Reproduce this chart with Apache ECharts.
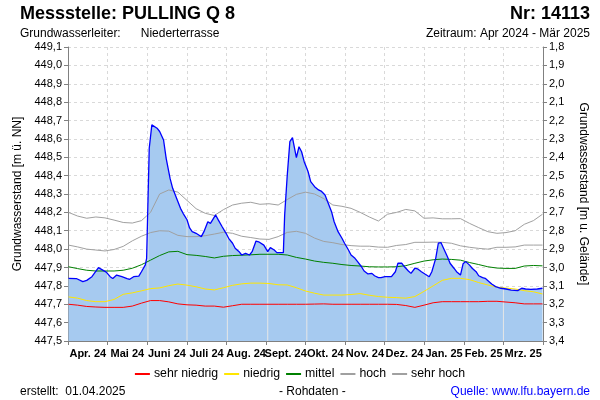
<!DOCTYPE html>
<html><head><meta charset="utf-8">
<script src="https://cdn.jsdelivr.net/npm/echarts@6/dist/echarts.min.js"></script>
<style>html,body{margin:0;padding:0;background:#fff}#c{width:600px;height:400px}</style>
</head><body><div id="c"></div>
<script>
// ---------- data ----------
const months = ['Apr. 24','Mai 24','Juni 24','Juli 24','Aug. 24','Sept. 24','Okt. 24','Nov. 24','Dez. 24','Jan. 25','Feb. 25','Mrz. 25'];
const monthStarts = ['2024-05-01','2024-06-01','2024-07-01','2024-08-01','2024-09-01','2024-10-01','2024-11-01','2024-12-01','2025-01-01','2025-02-01','2025-03-01'];
const GROUND = 450.9; // Geländehöhe [m ü. NN]

const refDates = ['2024-04-01','2024-04-08','2024-04-15','2024-04-22','2024-04-29','2024-05-06','2024-05-13','2024-05-20','2024-05-27','2024-06-03','2024-06-10','2024-06-17','2024-06-24','2024-07-01','2024-07-08','2024-07-15','2024-07-22','2024-07-29','2024-08-05','2024-08-12','2024-08-19','2024-08-26','2024-09-02','2024-09-09','2024-09-16','2024-09-23','2024-09-30','2024-10-07','2024-10-14','2024-10-21','2024-10-28','2024-11-04','2024-11-11','2024-11-18','2024-11-25','2024-12-02','2024-12-09','2024-12-16','2024-12-23','2024-12-30','2025-01-06','2025-01-13','2025-01-20','2025-01-27','2025-02-03','2025-02-10','2025-02-17','2025-02-24','2025-03-03','2025-03-10','2025-03-17','2025-03-24','2025-03-31'];

const sehrHoch = [448.200,448.180,448.168,448.175,448.170,448.158,448.145,448.142,448.155,448.200,448.300,448.322,448.310,448.265,448.220,448.195,448.183,448.215,448.240,448.250,448.255,448.244,448.247,448.240,448.270,448.298,448.310,448.300,448.275,448.240,448.233,448.222,448.200,448.175,448.153,448.190,448.200,448.216,448.208,448.168,448.170,448.165,448.165,448.166,448.140,448.117,448.095,448.086,448.090,448.100,448.135,448.155,448.190];
const hoch = [448.022,448.012,448.000,447.995,447.990,447.998,448.015,448.045,448.070,448.090,448.100,448.098,448.075,448.068,448.068,448.073,448.082,448.092,448.086,448.070,448.063,448.055,448.053,448.068,448.091,448.097,448.086,448.060,448.042,448.035,448.025,448.019,448.016,448.016,448.011,448.010,448.020,448.025,448.037,448.037,448.038,448.037,448.032,448.018,448.010,448.004,448.000,448.010,448.010,448.012,448.022,448.022,448.022];
const mittel = [447.904,447.894,447.885,447.881,447.881,447.881,447.885,447.896,447.915,447.940,447.965,447.985,447.988,447.970,447.966,447.960,447.952,447.961,447.965,447.967,447.969,447.972,447.972,447.972,447.968,447.955,447.946,447.935,447.928,447.923,447.916,447.911,447.908,447.904,447.903,447.903,447.904,447.910,447.923,447.935,447.942,447.946,447.944,447.940,447.927,447.916,447.904,447.897,447.895,447.895,447.908,447.911,447.909];
const niedrig = [447.740,447.733,447.720,447.714,447.714,447.726,447.754,447.762,447.773,447.785,447.789,447.801,447.810,447.804,447.795,447.783,447.778,447.790,447.803,447.811,447.815,447.815,447.813,447.806,447.805,447.790,447.772,447.760,447.750,447.750,447.750,447.753,447.758,447.749,447.742,447.738,447.736,447.733,447.742,447.770,447.800,447.830,447.841,447.841,447.834,447.818,447.805,447.793,447.788,447.783,447.774,447.768,447.756];
const sehrNiedrig = [447.700,447.695,447.688,447.685,447.683,447.683,447.683,447.690,447.706,447.720,447.720,447.713,447.702,447.697,447.695,447.690,447.690,447.684,447.692,447.700,447.700,447.700,447.700,447.700,447.700,447.700,447.700,447.701,447.702,447.700,447.700,447.700,447.700,447.700,447.700,447.700,447.699,447.693,447.683,447.695,447.708,447.714,447.714,447.714,447.714,447.714,447.716,447.716,447.712,447.708,447.702,447.702,447.702];

const levelDates = ['2024-04-01','2024-04-07','2024-04-12','2024-04-15','2024-04-19','2024-04-24','2024-04-28','2024-04-30','2024-05-03','2024-05-05','2024-05-08','2024-05-12','2024-05-16','2024-05-18','2024-05-21','2024-05-25','2024-05-27','2024-05-30','2024-05-31','2024-06-01','2024-06-02','2024-06-04','2024-06-05','2024-06-08','2024-06-10','2024-06-13','2024-06-15','2024-06-18','2024-06-20','2024-06-23','2024-06-26','2024-06-28','2024-07-01','2024-07-03','2024-07-05','2024-07-08','2024-07-10','2024-07-12','2024-07-14','2024-07-17','2024-07-19','2024-07-20','2024-07-23','2024-07-25','2024-07-28','2024-07-31','2024-08-02','2024-08-05','2024-08-07','2024-08-10','2024-08-12','2024-08-15','2024-08-18','2024-08-20','2024-08-23','2024-08-25','2024-08-29','2024-09-01','2024-09-03','2024-09-06','2024-09-08','2024-09-13','2024-09-14','2024-09-16','2024-09-18','2024-09-20','2024-09-21','2024-09-23','2024-09-25','2024-09-27','2024-09-29','2024-10-01','2024-10-02','2024-10-04','2024-10-07','2024-10-10','2024-10-12','2024-10-15','2024-10-17','2024-10-20','2024-10-22','2024-10-25','2024-10-28','2024-10-30','2024-11-02','2024-11-04','2024-11-07','2024-11-09','2024-11-12','2024-11-14','2024-11-17','2024-11-20','2024-11-22','2024-11-25','2024-11-27','2024-11-30','2024-12-05','2024-12-08','2024-12-10','2024-12-13','2024-12-15','2024-12-18','2024-12-20','2024-12-23','2024-12-25','2024-12-28','2024-12-31','2025-01-03','2025-01-05','2025-01-08','2025-01-10','2025-01-12','2025-01-14','2025-01-17','2025-01-19','2025-01-22','2025-01-24','2025-01-27','2025-01-29','2025-01-31','2025-02-03','2025-02-05','2025-02-08','2025-02-10','2025-02-13','2025-02-15','2025-02-18','2025-02-20','2025-02-23','2025-02-27','2025-03-03','2025-03-07','2025-03-12','2025-03-15','2025-03-18','2025-03-22','2025-03-27','2025-03-31'];
const levelValues = [447.841,447.840,447.823,447.830,447.850,447.899,447.883,447.875,447.850,447.840,447.859,447.850,447.840,447.836,447.850,447.853,447.877,447.914,447.950,448.250,448.549,448.676,448.685,448.658,448.640,448.594,448.494,448.385,448.331,448.277,448.222,448.195,448.160,448.115,448.095,448.086,448.077,448.068,448.095,448.149,448.140,448.131,448.186,448.159,448.122,448.086,448.059,448.032,448.005,447.986,447.968,447.977,447.968,447.986,448.044,448.040,448.022,447.986,448.008,447.995,447.981,447.981,448.186,448.403,448.585,448.607,448.570,448.498,448.557,448.530,448.476,448.440,448.421,448.367,448.340,448.322,448.316,448.295,448.258,448.204,448.149,448.095,448.059,448.032,447.995,447.968,447.950,447.932,447.904,447.881,447.865,447.868,447.855,447.845,447.845,447.850,447.850,447.877,447.923,447.923,447.904,447.881,447.868,447.896,447.893,447.877,447.863,447.850,447.877,447.950,448.032,448.036,448.005,447.959,447.923,447.896,447.877,447.859,447.920,447.932,447.913,447.896,447.877,447.855,447.845,447.841,447.823,447.810,447.796,447.787,447.783,447.777,447.774,447.787,447.783,447.781,447.783,447.787];

// ---------- helpers ----------
const zip = (d, v) => d.map((x, i) => [x, v[i]]);
const ts = s => { const p = s.split('-'); return new Date(+p[0], +p[1] - 1, +p[2]).getTime(); };
function levelAt(dateStr) {
  const t = ts(dateStr);
  for (let i = 1; i < levelDates.length; i++) {
    const t0 = ts(levelDates[i - 1]), t1 = ts(levelDates[i]);
    if (t >= t0 && t <= t1) {
      const f = (t - t0) / (t1 - t0);
      return levelValues[i - 1] + f * (levelValues[i] - levelValues[i - 1]);
    }
  }
  return levelValues[levelValues.length - 1];
}
const FONT = '"Liberation Sans", Arial, sans-serif';
const fmt = v => (Math.round(v * 10) / 10).toFixed(1).replace('.', ',');

const refLine = (name, data, color) => ({
  name, type: 'line', xAxisIndex: 1, yAxisIndex: 0, data: zip(refDates, data),
  symbol: 'none', smooth: false, z: 4, silent: true,
  lineStyle: { color, width: 1 }, itemStyle: { color }
});

const chart = echarts.init(document.getElementById('c'), null, { renderer: 'canvas' });
chart.setOption({
  animation: false,
  backgroundColor: '#ffffff',
  textStyle: { fontFamily: FONT },
  grid: { left: 68, right: 57, top: 47, bottom: 59, containLabel: false },
  xAxis: [
    {
      type: 'category', data: months, boundaryGap: true, position: 'bottom',
      axisLine: { show: true, lineStyle: { color: '#808080', width: 1 } },
      axisTick: { show: true, interval: 0, length: 4, lineStyle: { color: '#808080' } },
      axisLabel: { interval: 0, color: '#000', fontSize: 11, fontWeight: 'bold', fontFamily: FONT, margin: 7, hideOverlap: false },
      splitLine: { show: true, interval: 0, lineStyle: { color: '#d9d9d9', type: [3, 3], width: 1 } }
    },
    {
      type: 'time', show: false, min: ts('2024-04-01'), max: ts('2025-03-31'),
      splitLine: { show: false }
    }
  ],
  yAxis: [
    {
      type: 'value', position: 'left', min: 447.5, max: 449.1, interval: 0.1,
      name: 'Grundwasserstand [m ü. NN]', nameLocation: 'middle', nameGap: 44, nameRotate: 90,
      nameTextStyle: { color: '#000', fontSize: 12, fontFamily: FONT },
      axisLine: { show: true, lineStyle: { color: '#808080', width: 1 } },
      axisTick: { show: true, length: 4, lineStyle: { color: '#808080' } },
      axisLabel: { color: '#000', fontSize: 11, fontFamily: FONT, margin: 6, formatter: fmt, showMinLabel: true, showMaxLabel: true },
      splitLine: { show: true, lineStyle: { color: '#d9d9d9', type: [3, 3], width: 1 } }
    },
    {
      type: 'value', position: 'right', min: 447.5, max: 449.1, interval: 0.1,
      name: 'Grundwasserstand [m u. Gelände]', nameLocation: 'middle', nameGap: 34, nameRotate: -90,
      nameTextStyle: { color: '#000', fontSize: 12, fontFamily: FONT },
      axisLine: { show: true, lineStyle: { color: '#808080', width: 1 } },
      axisTick: { show: true, length: 4, lineStyle: { color: '#808080' } },
      axisLabel: { color: '#000', fontSize: 11, fontFamily: FONT, margin: 6, formatter: v => fmt(GROUND - v), showMinLabel: true, showMaxLabel: true },
      splitLine: { show: false }
    }
  ],
  legend: {
    left: 'center', top: 363, itemGap: 6, itemWidth: 15, itemHeight: 2, icon: 'rect',
    textStyle: { color: '#000', fontSize: 12.3, fontFamily: FONT, padding: [0, 0, 0, -1] },
    data: ['sehr niedrig', 'niedrig', 'mittel', 'hoch', 'sehr hoch']
  },
  graphic: [
    { type: 'text', left: 20, top: 5, style: { text: 'Messstelle: PULLING Q 8', fontSize: 18, fontWeight: 'bold', fontFamily: FONT, fill: '#000' } },
    { type: 'text', right: 10, top: 5, style: { text: 'Nr: 14113', fontSize: 18, fontWeight: 'bold', fontFamily: FONT, fill: '#000' } },
    { type: 'text', left: 20, top: 28, style: { text: 'Grundwasserleiter:      Niederterrasse', fontSize: 12, fontFamily: FONT, fill: '#000' } },
    { type: 'text', right: 10, top: 28, style: { text: 'Zeitraum: Apr 2024 - Mär 2025', fontSize: 12, fontFamily: FONT, fill: '#000' } },
    { type: 'text', left: 20, top: 386, style: { text: 'erstellt:  01.04.2025', fontSize: 12, fontFamily: FONT, fill: '#000' } },
    { type: 'text', left: 279, top: 386, style: { text: '- Rohdaten -', fontSize: 12, fontFamily: FONT, fill: '#000' } },
    { type: 'text', right: 10, top: 386, style: { text: 'Quelle: www.lfu.bayern.de', fontSize: 12, fontFamily: FONT, fill: '#0000ff' } }
  ],
  series: [
    {
      name: 'Grundwasserstand', type: 'line', xAxisIndex: 1, yAxisIndex: 0,
      data: zip(levelDates, levelValues), symbol: 'none', silent: true, z: 2,
      lineStyle: { width: 0, color: '#A6CAF0' },
      areaStyle: { color: '#A6CAF0', opacity: 1, origin: 'start' }
    },
    {
      name: 'Monatsgrenzen', type: 'bar', xAxisIndex: 1, yAxisIndex: 0, silent: true, z: 3,
      barWidth: 1, itemStyle: { color: '#e6e6e6' },
      data: monthStarts.map(d => [ts(d), levelAt(d)])
    },
    refLine('sehr niedrig', sehrNiedrig, '#ff0000'),
    refLine('niedrig', niedrig, '#ffe600'),
    refLine('mittel', mittel, '#008000'),
    refLine('hoch', hoch, '#a0a0a0'),
    refLine('sehr hoch', sehrHoch, '#a0a0a0'),
    {
      name: 'Messwert', type: 'line', xAxisIndex: 1, yAxisIndex: 0,
      data: zip(levelDates, levelValues), symbol: 'none', silent: true, z: 5,
      lineStyle: { width: 1.3, color: '#0000ff' }
    }
  ]
});
</script>
</body></html>
